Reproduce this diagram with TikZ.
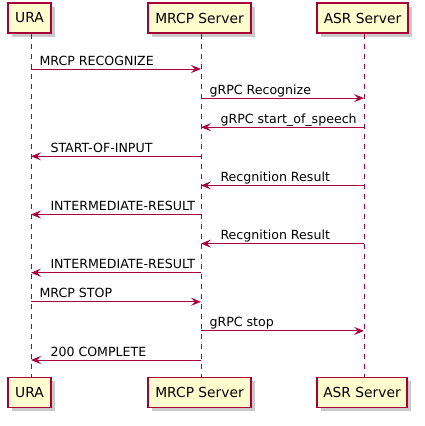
\documentclass[tikz,border=0pt]{standalone}
\usepackage{fontspec}
\setmainfont{DejaVu Sans}
\usetikzlibrary{arrows.meta,shadows}
\definecolor{pumlred}{HTML}{A80036}
\definecolor{pumlfill}{HTML}{FEFECE}
\tikzset{
  part/.style={draw=pumlred, line width=1.5pt, fill=pumlfill, minimum height=30pt,
    inner sep=0pt, font=\fontsize{13.8pt}{16pt}\selectfont,
    drop shadow={shadow xshift=3.5pt, shadow yshift=-3.5pt, opacity=0.35, fill=black!60}},
  life/.style={draw=pumlred, line width=1pt, dash pattern=on 5pt off 5pt},
  msg/.style={draw=pumlred, line width=1pt, -{Stealth[length=10pt,width=8pt,inset=4pt]}},
  lbl/.style={inner sep=0pt, font=\fontsize{12.6pt}{15pt}\selectfont, text=black}
}
\begin{document}
\begin{tikzpicture}[x=1pt,y=-1pt]
\useasboundingbox (0,0) rectangle (425,426);
% participants
\node[part, minimum width=43pt] (ura) at (29.5,18) {URA};
\node[part, minimum width=103pt] (mrcp) at (199.5,18) {MRCP Server};
\node[part, minimum width=91pt] (asr) at (362.5,18) {ASR Server};
\node[part, minimum width=43pt] (uraB) at (29.5,392.5) {URA};
\node[part, minimum width=103pt] (mrcpB) at (199.5,392.5) {MRCP Server};
\node[part, minimum width=90pt] (asrB) at (362,392.5) {ASR Server};
% lifeline anchors
\coordinate (uraX) at ([xshift=1.5pt]ura.south);
\coordinate (mrcpX) at ([xshift=1.5pt]mrcp.south);
\coordinate (asrX) at ([xshift=1.5pt]asr.south);
\begin{scope}[on background layer/.try]
\draw[life] (uraX) -- (uraX |- uraB.north);
\draw[life] (mrcpX) -- (mrcpX |- mrcpB.north);
\draw[life] (asrX) -- (asrX |- asrB.north);
\end{scope}
% rows
\foreach \i in {0,...,10} {\coordinate (r\i) at (0,{69+29.1*\i});}
\tikzset{rl/.style={pos=0, anchor=base west, xshift=8pt, yshift=4pt}}
\tikzset{ll/.style={pos=1, anchor=base west, xshift=19pt, yshift=4pt}}
\draw[msg] (uraX |- r0) -- node[lbl, rl] {MRCP RECOGNIZE} (mrcpX |- r0);
\draw[msg] (mrcpX |- r1) -- node[lbl, rl] {gRPC Recognize} (asrX |- r1);
\draw[msg] (asrX |- r2) -- node[lbl, ll] {gRPC start\_of\_speech} (mrcpX |- r2);
\draw[msg] (mrcpX |- r3) -- node[lbl, ll] {START-OF-INPUT} (uraX |- r3);
\draw[msg] (asrX |- r4) -- node[lbl, ll] {Recgnition Result} (mrcpX |- r4);
\draw[msg] (mrcpX |- r5) -- node[lbl, ll] {INTERMEDIATE-RESULT} (uraX |- r5);
\draw[msg] (asrX |- r6) -- node[lbl, ll] {Recgnition Result} (mrcpX |- r6);
\draw[msg] (mrcpX |- r7) -- node[lbl, ll] {INTERMEDIATE-RESULT} (uraX |- r7);
\draw[msg] (uraX |- r8) -- node[lbl, rl] {MRCP STOP} (mrcpX |- r8);
\draw[msg] (mrcpX |- r9) -- node[lbl, rl] {gRPC stop} (asrX |- r9);
\draw[msg] (mrcpX |- r10) -- node[lbl, ll] {200 COMPLETE} (uraX |- r10);
\end{tikzpicture}
\end{document}
